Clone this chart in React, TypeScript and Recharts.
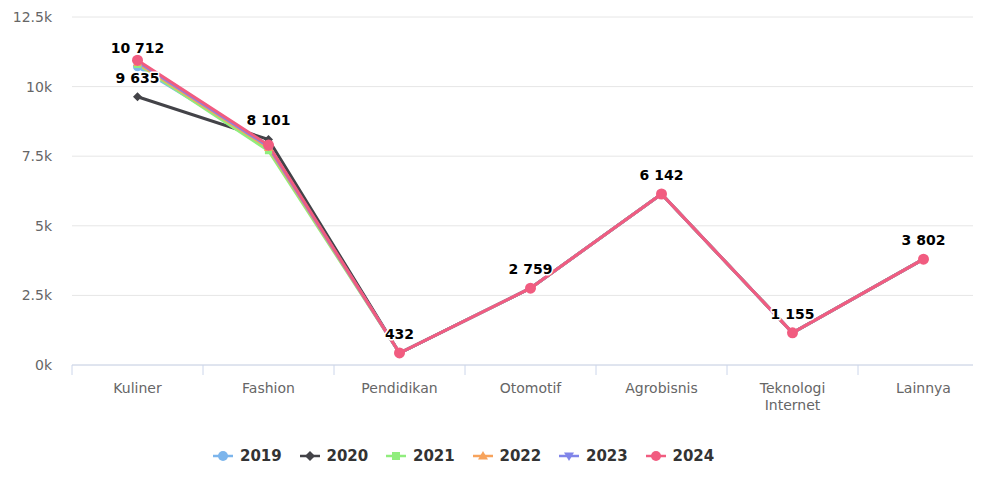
import React from "react";
import { LineChart, Line, XAxis, YAxis, CartesianGrid } from "recharts";

const categories = [
  "Kuliner",
  "Fashion",
  "Pendidikan",
  "Otomotif",
  "Agrobisnis",
  "Teknologi Internet",
  "Lainnya",
];
const years = ["2019", "2020", "2021", "2022", "2023", "2024"];
const colors = ["#7cb5ec", "#434348", "#90ed7d", "#f7a35c", "#8085e9", "#f15c80"];
const markers = ["circle", "diamond", "square", "triangle", "triangle-down", "circle"];

const values2019 = [10712, 7850, 432, 2759, 6142, 1155, 3802];
const values2020 = [9635, 8101, 432, 2759, 6142, 1155, 3802];
const values2021 = [10800, 7700, 432, 2759, 6142, 1155, 3802];
const values2022 = [10850, 7800, 432, 2759, 6142, 1155, 3802];
const values2023 = [10900, 7850, 432, 2759, 6142, 1155, 3802];
const values2024 = [10950, 7900, 432, 2759, 6142, 1155, 3802];
const seriesValues = [values2019, values2020, values2021, values2022, values2023, values2024];

const yTicks = [0, 2500, 5000, 7500, 10000, 12500];

// data labels that survive overlap pruning in the original
const shownLabels: Record<string, number[]> = {
  "2019": [0],
  "2020": [0, 1],
  "2024": [2, 3, 4, 5, 6],
};

const chartData = categories.map((name, i) => {
  const row: Record<string, string | number> = { name };
  years.forEach((y, s) => {
    row[y] = seriesValues[s][i];
  });
  return row;
});

const CHART_W = 1000;
const CHART_H = 481;
const Y_W = 72;
const RIGHT = 11;
const PLOT_W = CHART_W - Y_W - RIGHT;
const HALF_BAND = PLOT_W / categories.length / 2;
const FONT = "'DejaVu Sans', sans-serif";

const markerPath = (shape: string, cx: number, cy: number, r: number) => {
  switch (shape) {
    case "diamond":
      return `M${cx} ${cy - r}L${cx + r} ${cy}L${cx} ${cy + r}L${cx - r} ${cy}Z`;
    case "square": {
      const h = r * 0.8;
      return `M${cx - h} ${cy - h}h${2 * h}v${2 * h}h${-2 * h}Z`;
    }
    case "triangle":
      return `M${cx} ${cy - r}L${cx + r} ${cy + r * 0.7}L${cx - r} ${cy + r * 0.7}Z`;
    case "triangle-down":
      return `M${cx - r} ${cy - r * 0.7}L${cx + r} ${cy - r * 0.7}L${cx} ${cy + r}Z`;
    default:
      return `M${cx - r} ${cy}a${r} ${r} 0 1 0 ${2 * r} 0a${r} ${r} 0 1 0 ${-2 * r} 0Z`;
  }
};

const makeDot = (shape: string, color: string, r: number) => (props: any) => {
  const { cx, cy, index } = props;
  if (cx == null || cy == null) return <g key={index} />;
  return <path key={index} d={markerPath(shape, cx, cy, r)} fill={color} />;
};

const makeLabel = (year: string) => (props: any) => {
  const { x, y, value, index } = props;
  const list = shownLabels[year] || [];
  if (!list.includes(index)) return null;
  const txt = Number(value).toLocaleString("en-US").replace(/,/g, " ");
  return (
    <text
      key={index}
      x={x}
      y={y - 14}
      textAnchor="middle"
      fontFamily={FONT}
      fontSize={14}
      fontWeight="bold"
      fill="#000"
      stroke="#fff"
      strokeWidth={3}
      paintOrder="stroke"
      strokeLinejoin="round"
    >
      {txt}
    </text>
  );
};

const XTick = (props: any) => {
  const { x, y, payload, index } = props;
  const label: string = payload.value;
  const lines = label.length > 12 ? label.split(" ") : [label];
  return (
    <g>
      <line x1={x - HALF_BAND} x2={x - HALF_BAND} y1={y} y2={y + 10} stroke="#ccd6eb" />
      {index === categories.length - 1 && (
        <line x1={x + HALF_BAND} x2={x + HALF_BAND} y1={y} y2={y + 10} stroke="#ccd6eb" />
      )}
      <text x={x} y={y + 28} textAnchor="middle" fill="#666" fontFamily={FONT} fontSize={14}>
        {lines.map((l, i) => (
          <tspan key={i} x={x} dy={i === 0 ? 0 : 17}>
            {l}
          </tspan>
        ))}
      </text>
    </g>
  );
};

const Legend = () => (
  <div style={{ position: "absolute", left: 212, top: 446, height: 20 }}>
    {years.map((y, i) => (
      <div
        key={y}
        style={{
          position: "absolute",
          left: i * 86.5,
          top: 0,
          display: "flex",
          alignItems: "center",
          whiteSpace: "nowrap",
        }}
      >
        <svg width={22} height={20}>
          <line x1={1} x2={21} y1={10} y2={10} stroke={colors[i]} strokeWidth={2.5} />
          <path d={markerPath(markers[i], 11, 10, 5)} fill={colors[i]} />
        </svg>
        <span
          style={{
            marginLeft: 6,
            fontFamily: FONT,
            fontSize: 15,
            fontWeight: "bold",
            color: "#333",
          }}
        >
          {y}
        </span>
      </div>
    ))}
  </div>
);

export default function App() {
  return (
    <div
      style={{
        position: "relative",
        width: 981,
        height: 481,
        margin: -8,
        overflow: "hidden",
        background: "#fff",
      }}
    >
      <LineChart
        width={CHART_W}
        height={CHART_H}
        data={chartData}
        margin={{ top: 17, right: RIGHT, bottom: 0, left: 0 }}
      >
        <CartesianGrid vertical={false} stroke="#e6e6e6" />
        <XAxis
          dataKey="name"
          interval={0}
          padding={{ left: HALF_BAND, right: HALF_BAND }}
          axisLine={{ stroke: "#ccd6eb" }}
          tickLine={false}
          tickSize={0}
          tickMargin={0}
          height={116}
          tick={<XTick />}
        />
        <YAxis
          width={Y_W}
          domain={[0, 12500]}
          ticks={yTicks}
          interval={0}
          axisLine={false}
          tickLine={false}
          tickSize={0}
          tickMargin={20}
          tickFormatter={(v: number) => `${v / 1000}k`}
          tick={{ fill: "#666", fontSize: 14, fontFamily: FONT }}
        />
        {years.map((y, i) => (
          <Line
            key={y}
            type="linear"
            dataKey={y}
            stroke={colors[i]}
            strokeWidth={3}
            dot={makeDot(markers[i], colors[i], i === years.length - 1 ? 5.5 : 4.5)}
            activeDot={false}
            isAnimationActive={false}
            label={makeLabel(y)}
          />
        ))}
      </LineChart>
      <Legend />
    </div>
  );
}
